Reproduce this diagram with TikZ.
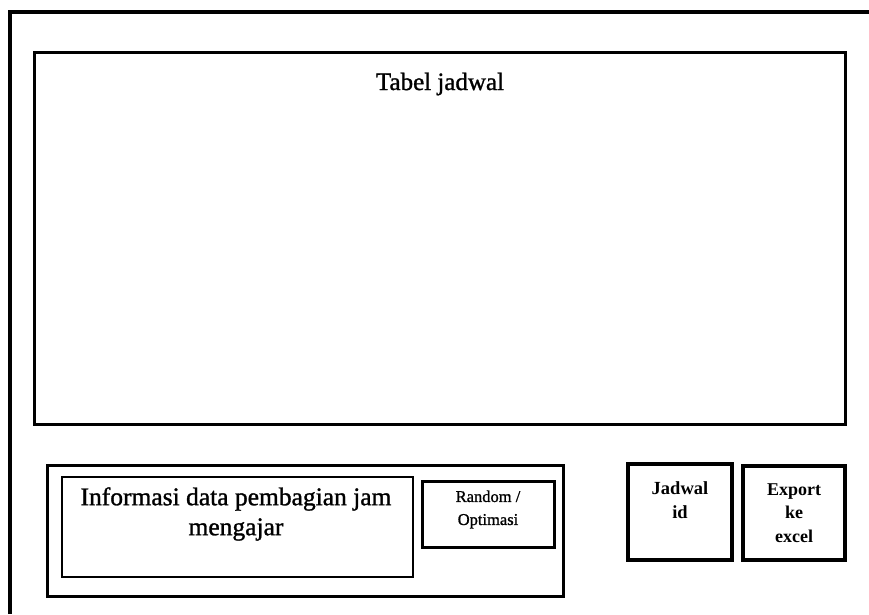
\documentclass[tikz,border=0pt]{standalone}
\usepackage{fontspec}
\setmainfont{Liberation Serif}
\newfontfamily\heavyserif[FakeBold=1.2]{Liberation Serif}
\begin{document}
\begin{tikzpicture}[x=1pt,y=-1pt,
  thickbox/.style={draw,line width=3pt,inner sep=0pt,rectangle},
  thinbox/.style={draw,line width=1.6pt,inner sep=0pt,rectangle},
  txt/.style={inner sep=0pt,align=center}]
\useasboundingbox (0,0) rectangle (869,614);
% outer frame (cropped on right and bottom)
\coordinate (ob) at (10,614);
\coordinate (otl) at (10,12);
\coordinate (or) at (869,12);
\draw[line width=3.2pt] (ob) -- (otl) -- (or);
% table
\node[thickbox,minimum width=811pt,minimum height=372pt] (tabel) at (439.5,238) {};
\node[txt,font=\heavyserif\fontsize{25}{30}\selectfont] (tabeltxt) at (440,84) {Tabel jadwal};
% bottom container
\node[thickbox,minimum width=516pt,minimum height=131pt] (cont) at (305,530.5) {};
\node[thinbox,minimum width=351pt,minimum height=100pt] (info) at (237.5,527) {};
\node[txt,font=\heavyserif\fontsize{25.5}{30}\selectfont] (infotxt) at (236,514) {Informasi data pembagian jam\\mengajar};
\node[thickbox,minimum width=132pt,minimum height=66pt] (rand) at (488,514) {};
\node[txt,font=\heavyserif\fontsize{16.5}{23}\selectfont] (randtxt) at (488,509.5) {Random /\\Optimasi};
% buttons
\node[thickbox,line width=3.5pt,minimum width=104pt,minimum height=96pt] (jad) at (680,512) {};
\node[txt,font=\bfseries\fontsize{18.5}{24}\selectfont] (jadtxt) at (680,500) {Jadwal\\id};
\node[thickbox,line width=3.5pt,minimum width=102pt,minimum height=94pt] (exp) at (794,513) {};
\node[txt,font=\bfseries\fontsize{18}{23.5}\selectfont] (exptxt) at (794,513) {Export\\ke\\excel};
\end{tikzpicture}
\end{document}
